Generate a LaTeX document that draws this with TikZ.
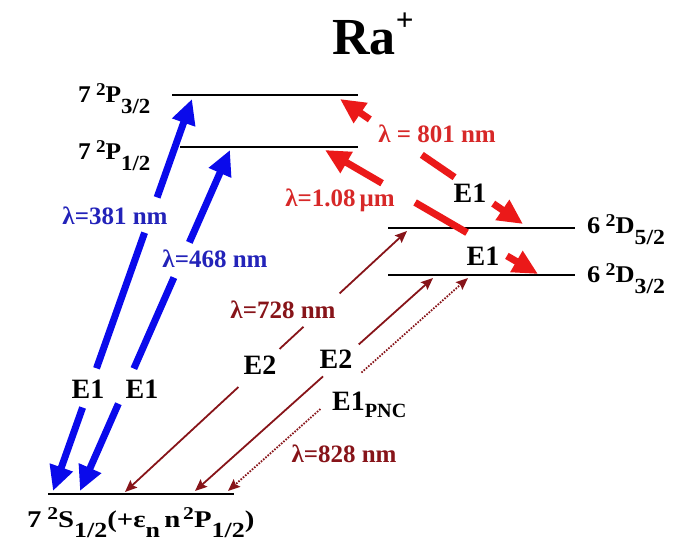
\documentclass[tikz,border=0pt]{standalone}
\usepackage{fontspec}
\setmainfont{Liberation Serif}
\usetikzlibrary{arrows.meta,calc}
\definecolor{myblue}{RGB}{10,10,235}
\definecolor{lblblue}{RGB}{35,35,185}
\definecolor{myred}{RGB}{235,25,25}
\definecolor{lblred}{RGB}{215,40,40}
\definecolor{mydark}{RGB}{135,20,25}
\newcommand{\upx}[1]{\raisebox{0.33em}{\scalebox{0.75}{#1}}}
\newcommand{\dnx}[1]{\raisebox{-0.42em}{\scalebox{0.9}{#1}}}
\begin{document}
\begin{tikzpicture}[x=1pt,y=-1pt,
  level/.style={line width=2.8pt,black},
  thickblue/.style={line width=7pt,myblue},
  thickred/.style={line width=7pt,myred},
  thinarr/.style={line width=1.8pt,mydark},
  bighead/.style={-{Triangle[length=25pt,width=23pt]}},
  smallhead/.style={-{Stealth[length=12pt,width=10pt,inset=2pt]}},
  lvl/.style={font=\fontsize{24}{28}\selectfont\bfseries,inner sep=0pt},
  etxt/.style={font=\fontsize{28}{32}\selectfont\bfseries,inner sep=0pt},
  lamb/.style={font=\fontsize{25}{29}\selectfont\bfseries,inner sep=0pt},
]
\useasboundingbox (0,0) rectangle (683,556);

% title
\node[font=\fontsize{52}{56}\selectfont\bfseries,anchor=base west,inner sep=0pt] (title) at (332,55) {Ra\raisebox{0.47em}{\scalebox{0.6}{+}}};

% level lines
\coordinate (P3L) at (172,95);  \coordinate (P3R) at (358,95);
\coordinate (P1L) at (180,147); \coordinate (P1R) at (358,147);
\coordinate (D5L) at (388,228); \coordinate (D5R) at (575,228);
\coordinate (D3L) at (388,275); \coordinate (D3R) at (575,275);
\coordinate (SL) at (48,494);   \coordinate (SR) at (234,494);
\draw[level] (P3L) -- (P3R);
\draw[level] (P1L) -- (P1R);
\draw[level] (D5L) -- (D5R);
\draw[level] (D3L) -- (D3R);
\draw[level] (SL) -- (SR);

% level labels
\node[lvl,anchor=base west] (lP3) at (78,103) {\scalebox{1.06}[1]{7\hspace{0.2em}\upx{2}P\dnx{3/2}}};
\node[lvl,anchor=base west] (lP1) at (78,160) {\scalebox{1.06}[1]{7\hspace{0.2em}\upx{2}P\dnx{1/2}}};
\node[lvl,anchor=base west] (lD5) at (587,234) {\scalebox{1.1}[1]{6\hspace{0.2em}\upx{2}D\dnx{5/2}}};
\node[lvl,anchor=base west] (lD3) at (587,283) {\scalebox{1.1}[1]{6\hspace{0.2em}\upx{2}D\dnx{3/2}}};
\node[lvl,anchor=base west] (lS) at (27,527) {\scalebox{1.2}[1]{7\hspace{0.2em}\upx{2}S\dnx{1/2}(+ε\dnx{n}\hspace{0.15em}n\hspace{0.1em}\upx{2}P\dnx{1/2})}};

% arrow end points
\coordinate (a1s) at (53,491);  \coordinate (a1p) at (192,99);
\coordinate (a2s) at (80,491);  \coordinate (a2p) at (230,150);
\coordinate (r1p) at (340,99);  \coordinate (r1d) at (523,224);
\coordinate (r2p) at (325,150); \coordinate (r2d) at (538,274);
\coordinate (t1s) at (125,492); \coordinate (t1d) at (407,231);
\coordinate (t2s) at (195,491); \coordinate (t2d) at (433,278);
\coordinate (t3s) at (228,491); \coordinate (t3d) at (468,278);

% blue 381 nm
\draw[thickblue,bighead] ($(a1s)!0.213!(a1p)$) -- (a1s);
\draw[thickblue] ($(a1s)!0.313!(a1p)$) -- ($(a1s)!0.659!(a1p)$);
\draw[thickblue,bighead] ($(a1s)!0.749!(a1p)$) -- (a1p);
% blue 468 nm
\draw[thickblue,bighead] ($(a2s)!0.256!(a2p)$) -- (a2s);
\draw[thickblue] ($(a2s)!0.359!(a2p)$) -- ($(a2s)!0.626!(a2p)$);
\draw[thickblue,bighead] ($(a2s)!0.729!(a2p)$) -- (a2p);

% red 801 nm
\draw[thickred,bighead] ($(r1p)!0.163!(r1d)$) -- (r1p);
\draw[thickred] ($(r1p)!0.447!(r1d)$) -- ($(r1p)!0.626!(r1d)$);
\draw[thickred,bighead] ($(r1p)!0.837!(r1d)$) -- (r1d);
% red 1.08 um
\draw[thickred,bighead] ($(r2p)!0.268!(r2d)$) -- (r2p);
\draw[thickred] ($(r2p)!0.423!(r2d)$) -- ($(r2p)!0.667!(r2d)$);
\draw[thickred,bighead] ($(r2p)!0.854!(r2d)$) -- (r2d);

% E2 728 nm
\draw[thinarr,smallhead] ($(t1s)!0.402!(t1d)$) -- (t1s);
\draw[thinarr] ($(t1s)!0.548!(t1d)$) -- ($(t1s)!0.633!(t1d)$);
\draw[thinarr,smallhead] ($(t1s)!0.761!(t1d)$) -- (t1d);
% E2 to D3/2
\draw[thinarr,smallhead] ($(t2s)!0.538!(t2d)$) -- (t2s);
\draw[thinarr,smallhead] ($(t2s)!0.688!(t2d)$) -- (t2d);
% E1 PNC dotted
\draw[thinarr,dash pattern=on 1.6pt off 1.4pt,smallhead] ($(t3s)!0.385!(t3d)$) -- (t3s);
\draw[thinarr,dash pattern=on 1.6pt off 1.4pt,smallhead] ($(t3s)!0.556!(t3d)$) -- (t3d);

% transition labels
\node[lamb,lblblue,anchor=base] (l381) at (115,225) {λ=381 nm};
\node[lamb,lblblue,anchor=base] (l468) at (215,268) {λ=468 nm};
\node[lamb,lblred,anchor=base] (l801) at (437,143) {λ = 801 nm};
\node[lamb,lblred,anchor=base] (l108) at (340,207) {λ=1.08\,μm};
\node[lamb,mydark,anchor=base] (l728) at (283,318) {λ=728 nm};
\node[lamb,mydark,anchor=base] (l828) at (344,462) {λ=828 nm};

\node[etxt] (e1a) at (88,389) {E1};
\node[etxt] (e1b) at (142,389) {E1};
\node[etxt] (e1c) at (470,193) {E1};
\node[etxt] (e1d) at (483,256) {E1};
\node[etxt] (e2a) at (260,365) {E2};
\node[etxt] (e2b) at (336,359) {E2};
\node[etxt,anchor=base west] (e1p) at (332,410) {E1\raisebox{-0.25em}{\scalebox{0.72}{PNC}}};
\end{tikzpicture}
\end{document}
